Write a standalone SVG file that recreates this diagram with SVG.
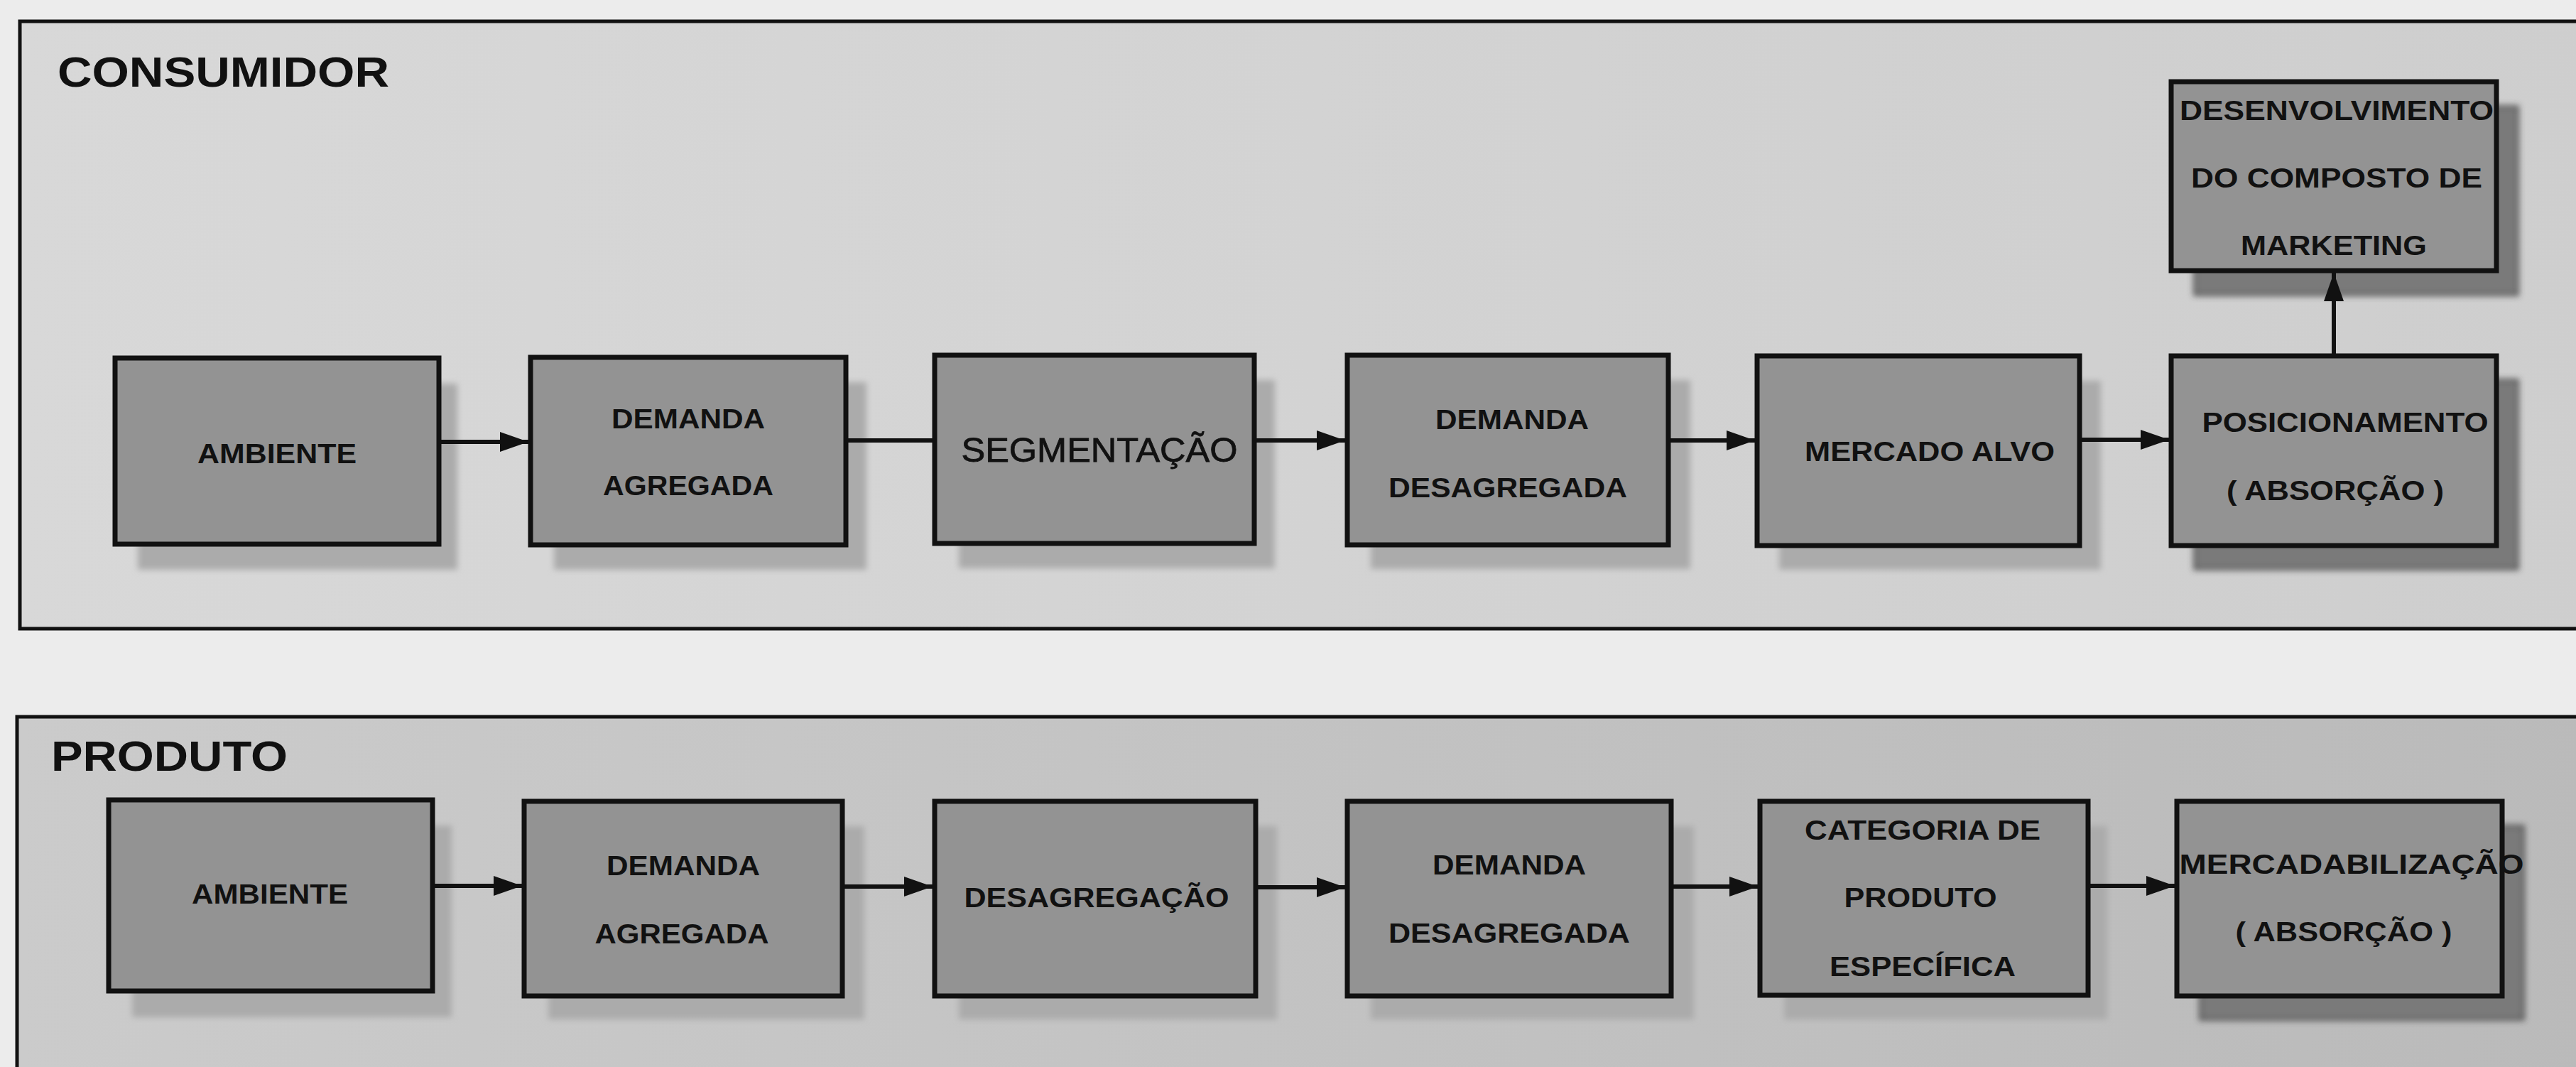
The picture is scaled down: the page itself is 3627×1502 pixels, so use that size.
<svg xmlns="http://www.w3.org/2000/svg" width="3627" height="1502" viewBox="0 0 3627 1502">
  <defs>
    <linearGradient id="panelTop" x1="0" y1="0" x2="1" y2="0">
      <stop offset="0" stop-color="#d8d8d8"/>
      <stop offset="1" stop-color="#cecece"/>
    </linearGradient>
    <linearGradient id="panelBottom" x1="0" y1="0" x2="1" y2="0">
      <stop offset="0" stop-color="#cbcbcb"/>
      <stop offset="1" stop-color="#bababa"/>
    </linearGradient>
    <filter id="soft" x="-10%" y="-10%" width="120%" height="120%">
      <feGaussianBlur stdDeviation="4"/>
    </filter>
    <marker id="ah" markerUnits="userSpaceOnUse" markerWidth="42" markerHeight="30" refX="40" refY="15" orient="auto">
      <path d="M0,1 L40,15 L0,29 z" fill="#111"/>
    </marker>
  </defs>
  <style>
    .panel { stroke: #111; stroke-width: 5; }
    .box { fill: #939393; stroke: #111; stroke-width: 7; }
    .shadow { fill: #ababab; filter: url(#soft); }
    .shadowDark { fill: #7a7a7a; stroke: #333; stroke-width: 3; filter: url(#soft); }
    .title { font-family: "Liberation Sans", Arial, sans-serif; font-weight: bold; font-size: 60px; fill: #111; }
    .lbl { font-family: "Liberation Sans", Arial, sans-serif; font-weight: bold; font-size: 39px; fill: #111; text-anchor: middle; }
    .big { font-family: "Liberation Sans", Arial, sans-serif; font-weight: normal; font-size: 49px; fill: #111; text-anchor: middle; stroke: #111; stroke-width: 0.8; }
    .conn { stroke: #111; stroke-width: 6; fill: none; }
  </style>

  <!-- page background -->
  <rect x="0" y="0" width="3627" height="1502" fill="#ececec"/>

  <!-- CONSUMIDOR panel -->
  <g id="panel-consumidor">
    <rect class="panel" x="28" y="30" width="3650" height="855" fill="url(#panelTop)"/>
    <text class="title" x="81" y="122" textLength="467" lengthAdjust="spacingAndGlyphs">CONSUMIDOR</text>
  </g>

  <!-- PRODUTO panel -->
  <g id="panel-produto">
    <rect class="panel" x="24" y="1009" width="3650" height="560" fill="url(#panelBottom)"/>
    <text class="title" x="72" y="1085" textLength="333" lengthAdjust="spacingAndGlyphs">PRODUTO</text>
  </g>

  <!-- top row nodes -->
  <g id="c-ambiente">
    <rect class="shadow" x="194" y="540" width="450" height="262"/>
    <rect class="box" x="162" y="504" width="456" height="262"/>
    <text class="lbl" x="390" y="652" textLength="224" lengthAdjust="spacingAndGlyphs">AMBIENTE</text>
  </g>
  <g id="c-demanda-agregada">
    <rect class="shadow" x="780" y="538" width="440" height="264"/>
    <rect class="box" x="747" y="503" width="444" height="264"/>
    <text class="lbl" x="969" y="603" textLength="216" lengthAdjust="spacingAndGlyphs">DEMANDA</text>
    <text class="lbl" x="969" y="697" textLength="240" lengthAdjust="spacingAndGlyphs">AGREGADA</text>
  </g>
  <g id="c-segmentacao">
    <rect class="shadow" x="1350" y="535" width="445" height="265"/>
    <rect class="box" x="1316" y="500" width="450" height="265"/>
    <text class="big" x="1548" y="650" textLength="389" lengthAdjust="spacingAndGlyphs">SEGMENTAÇÃO</text>
  </g>
  <g id="c-demanda-desagregada">
    <rect class="shadow" x="1930" y="535" width="450" height="266"/>
    <rect class="box" x="1897" y="500" width="452" height="267"/>
    <text class="lbl" x="2129" y="604" textLength="216" lengthAdjust="spacingAndGlyphs">DEMANDA</text>
    <text class="lbl" x="2123" y="700" textLength="336" lengthAdjust="spacingAndGlyphs">DESAGREGADA</text>
  </g>
  <g id="c-mercado-alvo">
    <rect class="shadow" x="2505" y="536" width="453" height="266"/>
    <rect class="box" x="2474" y="501" width="454" height="267"/>
    <text class="lbl" x="2717" y="649" textLength="352" lengthAdjust="spacingAndGlyphs">MERCADO ALVO</text>
  </g>
  <g id="c-posicionamento">
    <rect class="shadowDark" x="3090" y="535" width="455" height="266"/>
    <rect class="box" x="3057" y="501" width="458" height="267"/>
    <text class="lbl" x="3302" y="608" textLength="403" lengthAdjust="spacingAndGlyphs">POSICIONAMENTO</text>
    <text class="lbl" x="3288" y="704" textLength="306" lengthAdjust="spacingAndGlyphs">( ABSORÇÃO )</text>
  </g>
  <g id="c-desenvolvimento">
    <rect class="shadowDark" x="3090" y="150" width="455" height="265"/>
    <rect class="box" x="3057" y="115" width="458" height="266"/>
    <text class="lbl" x="3290" y="169" textLength="442" lengthAdjust="spacingAndGlyphs">DESENVOLVIMENTO</text>
    <text class="lbl" x="3290" y="264" textLength="410" lengthAdjust="spacingAndGlyphs">DO COMPOSTO DE</text>
    <text class="lbl" x="3286" y="359" textLength="262" lengthAdjust="spacingAndGlyphs">MARKETING</text>
  </g>

  <!-- bottom row nodes -->
  <g id="p-ambiente">
    <rect class="shadow" x="186" y="1162" width="450" height="270"/>
    <rect class="box" x="153" y="1126" width="456" height="269"/>
    <text class="lbl" x="380" y="1272" textLength="220" lengthAdjust="spacingAndGlyphs">AMBIENTE</text>
  </g>
  <g id="p-demanda-agregada">
    <rect class="shadow" x="772" y="1163" width="445" height="272"/>
    <rect class="box" x="738" y="1128" width="448" height="274"/>
    <text class="lbl" x="962" y="1232" textLength="216" lengthAdjust="spacingAndGlyphs">DEMANDA</text>
    <text class="lbl" x="960" y="1328" textLength="245" lengthAdjust="spacingAndGlyphs">AGREGADA</text>
  </g>
  <g id="p-desagregacao">
    <rect class="shadow" x="1350" y="1163" width="448" height="272"/>
    <rect class="box" x="1316" y="1128" width="452" height="274"/>
    <text class="lbl" x="1544" y="1277" textLength="373" lengthAdjust="spacingAndGlyphs">DESAGREGAÇÃO</text>
  </g>
  <g id="p-demanda-desagregada">
    <rect class="shadow" x="1930" y="1163" width="455" height="272"/>
    <rect class="box" x="1897" y="1128" width="456" height="274"/>
    <text class="lbl" x="2125" y="1231" textLength="216" lengthAdjust="spacingAndGlyphs">DEMANDA</text>
    <text class="lbl" x="2125" y="1327" textLength="340" lengthAdjust="spacingAndGlyphs">DESAGREGADA</text>
  </g>
  <g id="p-categoria">
    <rect class="shadow" x="2512" y="1163" width="455" height="272"/>
    <rect class="box" x="2478" y="1128" width="462" height="273"/>
    <text class="lbl" x="2707" y="1182" textLength="332" lengthAdjust="spacingAndGlyphs">CATEGORIA DE</text>
    <text class="lbl" x="2704" y="1277" textLength="215" lengthAdjust="spacingAndGlyphs">PRODUTO</text>
    <text class="lbl" x="2707" y="1374" textLength="262" lengthAdjust="spacingAndGlyphs">ESPECÍFICA</text>
  </g>
  <g id="p-mercadabilizacao">
    <rect class="shadowDark" x="3098" y="1163" width="455" height="272"/>
    <rect class="box" x="3065" y="1128" width="458" height="274"/>
    <text class="lbl" x="3311" y="1230" textLength="485" lengthAdjust="spacingAndGlyphs">MERCADABILIZAÇÃO</text>
    <text class="lbl" x="3300" y="1325" textLength="305" lengthAdjust="spacingAndGlyphs">( ABSORÇÃO )</text>
  </g>

  <!-- connectors -->
  <g id="connectors">
    <line class="conn" x1="621" y1="622" x2="744" y2="622" marker-end="url(#ah)"/>
    <line class="conn" x1="1194" y1="620" x2="1313" y2="620"/>
    <line class="conn" x1="1769" y1="620" x2="1894" y2="620" marker-end="url(#ah)"/>
    <line class="conn" x1="2352" y1="620" x2="2471" y2="620" marker-end="url(#ah)"/>
    <line class="conn" x1="2931" y1="619" x2="3054" y2="619" marker-end="url(#ah)"/>
    <line class="conn" x1="3286" y1="498" x2="3286" y2="384" marker-end="url(#ah)"/>

    <line class="conn" x1="612" y1="1247" x2="735" y2="1247" marker-end="url(#ah)"/>
    <line class="conn" x1="1189" y1="1248" x2="1313" y2="1248" marker-end="url(#ah)"/>
    <line class="conn" x1="1771" y1="1249" x2="1894" y2="1249" marker-end="url(#ah)"/>
    <line class="conn" x1="2356" y1="1248" x2="2475" y2="1248" marker-end="url(#ah)"/>
    <line class="conn" x1="2943" y1="1247" x2="3062" y2="1247" marker-end="url(#ah)"/>
  </g>
</svg>
